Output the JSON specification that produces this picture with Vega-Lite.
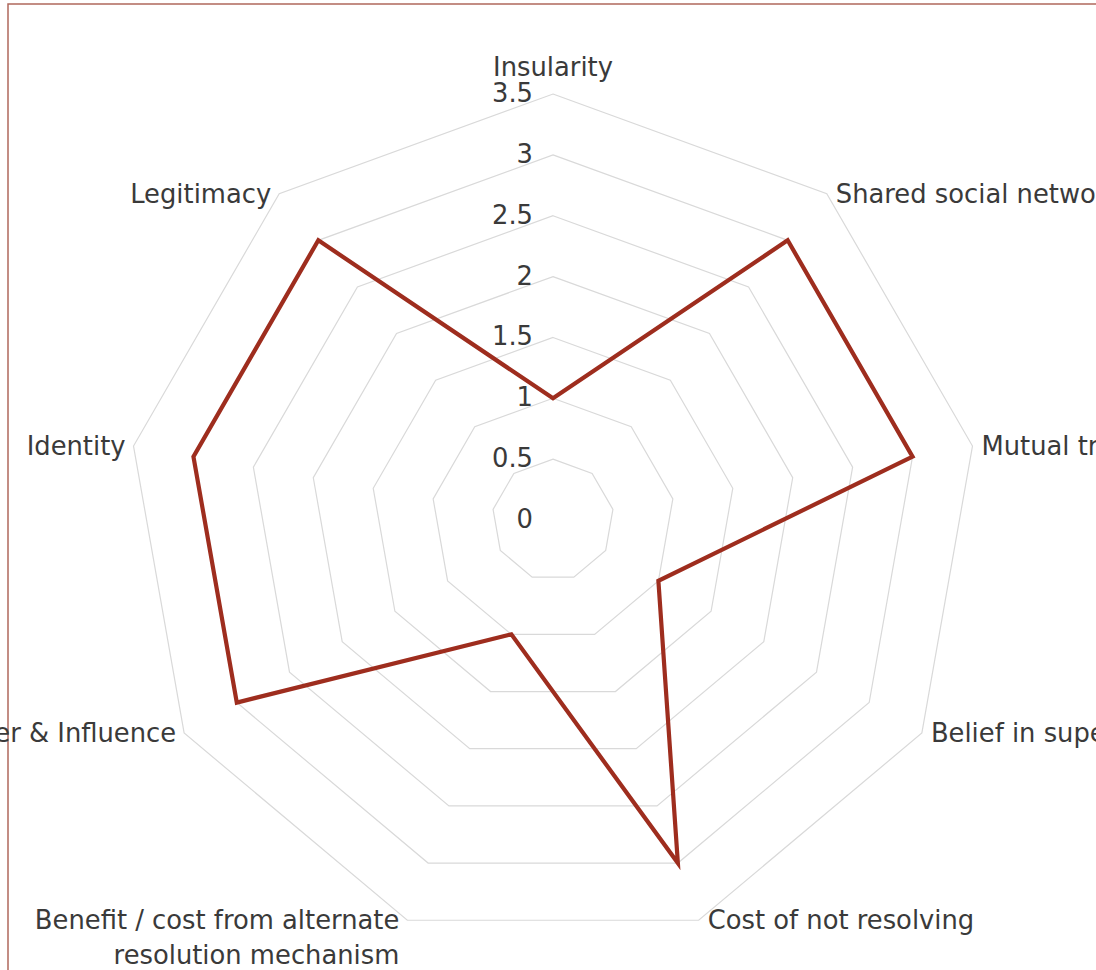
{
  "$schema": "https://vega.github.io/schema/vega-lite/v6.json",
  "width": 1098,
  "height": 972,
  "autosize": {"type": "none"},
  "padding": {"left": 8, "top": 4, "right": -10, "bottom": -6},
  "background": "white",
  "config": {
    "view": {"stroke": "#b0685c", "strokeWidth": 1.5},
    "text": {"font": "DejaVu Sans", "fontSize": 25.8, "color": "#3a3a3a"}
  },
  "datasets": {
    "axes": [
      {"idx": 0, "name": "Insularity", "value": 1},
      {"idx": 1, "name": "Shared social networks", "value": 3},
      {"idx": 2, "name": "Mutual trust", "value": 3},
      {"idx": 3, "name": "Belief in superiority", "value": 1},
      {"idx": 4, "name": "Cost of not resolving", "value": 3},
      {"idx": 5, "name": "Benefit / cost from alternate\nresolution mechanism", "value": 1},
      {"idx": 6, "name": "Power & Influence", "value": 3},
      {"idx": 7, "name": "Identity", "value": 3},
      {"idx": 8, "name": "Legitimacy", "value": 3}
    ],
    "levels": [
      {"level": 0, "label": "0", "idx": [0, 1, 2, 3, 4, 5, 6, 7, 8]},
      {"level": 0.5, "label": "0.5", "idx": [0, 1, 2, 3, 4, 5, 6, 7, 8]},
      {"level": 1, "label": "1", "idx": [0, 1, 2, 3, 4, 5, 6, 7, 8]},
      {"level": 1.5, "label": "1.5", "idx": [0, 1, 2, 3, 4, 5, 6, 7, 8]},
      {"level": 2, "label": "2", "idx": [0, 1, 2, 3, 4, 5, 6, 7, 8]},
      {"level": 2.5, "label": "2.5", "idx": [0, 1, 2, 3, 4, 5, 6, 7, 8]},
      {"level": 3, "label": "3", "idx": [0, 1, 2, 3, 4, 5, 6, 7, 8]},
      {"level": 3.5, "label": "3.5", "idx": [0, 1, 2, 3, 4, 5, 6, 7, 8]}
    ]
  },
  "layer": [
    {
      "data": {"name": "levels"},
      "transform": [
        {"filter": "datum.level > 0"},
        {"flatten": ["idx"]},
        {"calculate": "datum.idx * 2 * PI / 9", "as": "ang"},
        {"calculate": "datum.level * sin(datum.ang)", "as": "px"},
        {"calculate": "datum.level * cos(datum.ang)", "as": "py"}
      ],
      "mark": {"type": "line", "interpolate": "linear-closed", "color": "#d9d9d9", "strokeWidth": 1.2},
      "encoding": {
        "x": {"field": "px", "type": "quantitative", "scale": {"domain": [-4.4782, 4.544], "nice": false, "zero": false}, "axis": null},
        "y": {"field": "py", "type": "quantitative", "scale": {"domain": [-3.7469, 4.2399], "nice": false, "zero": false}, "axis": null},
        "detail": {"field": "level", "type": "nominal"},
        "order": {"field": "idx", "type": "quantitative"}
      }
    },
    {
      "data": {"name": "axes"},
      "transform": [
        {"calculate": "datum.idx * 2 * PI / 9", "as": "ang"},
        {"calculate": "datum.value * sin(datum.ang)", "as": "px"},
        {"calculate": "datum.value * cos(datum.ang)", "as": "py"}
      ],
      "mark": {"type": "line", "interpolate": "linear-closed", "color": "#9e2d1e", "strokeWidth": 4.2, "strokeJoin": "miter"},
      "encoding": {
        "x": {"field": "px", "type": "quantitative"},
        "y": {"field": "py", "type": "quantitative"},
        "order": {"field": "idx", "type": "quantitative"}
      }
    },
    {
      "data": {"name": "levels"},
      "transform": [
        {"calculate": "0", "as": "px"},
        {"calculate": "datum.level", "as": "py"}
      ],
      "mark": {"type": "text", "align": "right", "baseline": "middle", "dx": -20},
      "encoding": {
        "x": {"field": "px", "type": "quantitative"},
        "y": {"field": "py", "type": "quantitative"},
        "text": {"field": "label"}
      }
    },
    {
      "data": {"name": "axes"},
      "transform": [
        {"filter": "datum.idx == 0"},
        {"calculate": "datum.idx * 2 * PI / 9", "as": "ang"},
        {"calculate": "3.5 * sin(datum.ang)", "as": "px"},
        {"calculate": "3.5 * cos(datum.ang)", "as": "py"}
      ],
      "mark": {"type": "text", "align": "center", "baseline": "alphabetic", "dy": -18},
      "encoding": {
        "x": {"field": "px", "type": "quantitative"},
        "y": {"field": "py", "type": "quantitative"},
        "text": {"field": "name"}
      }
    },
    {
      "data": {"name": "axes"},
      "transform": [
        {"filter": "datum.idx >= 1 && datum.idx <= 4"},
        {"calculate": "datum.idx * 2 * PI / 9", "as": "ang"},
        {"calculate": "3.5 * sin(datum.ang)", "as": "px"},
        {"calculate": "3.5 * cos(datum.ang)", "as": "py"}
      ],
      "mark": {"type": "text", "align": "left", "baseline": "middle", "dx": 9, "dy": 1},
      "encoding": {
        "x": {"field": "px", "type": "quantitative"},
        "y": {"field": "py", "type": "quantitative"},
        "text": {"field": "name"}
      }
    },
    {
      "data": {"name": "axes"},
      "transform": [
        {"filter": "datum.idx >= 5"},
        {"calculate": "datum.idx * 2 * PI / 9", "as": "ang"},
        {"calculate": "3.5 * sin(datum.ang)", "as": "px"},
        {"calculate": "3.5 * cos(datum.ang)", "as": "py"}
      ],
      "mark": {"type": "text", "align": "right", "baseline": "middle", "dx": -8, "dy": 1, "lineBreak": "\n", "lineHeight": 35},
      "encoding": {
        "x": {"field": "px", "type": "quantitative"},
        "y": {"field": "py", "type": "quantitative"},
        "text": {"field": "name"}
      }
    }
  ]
}
